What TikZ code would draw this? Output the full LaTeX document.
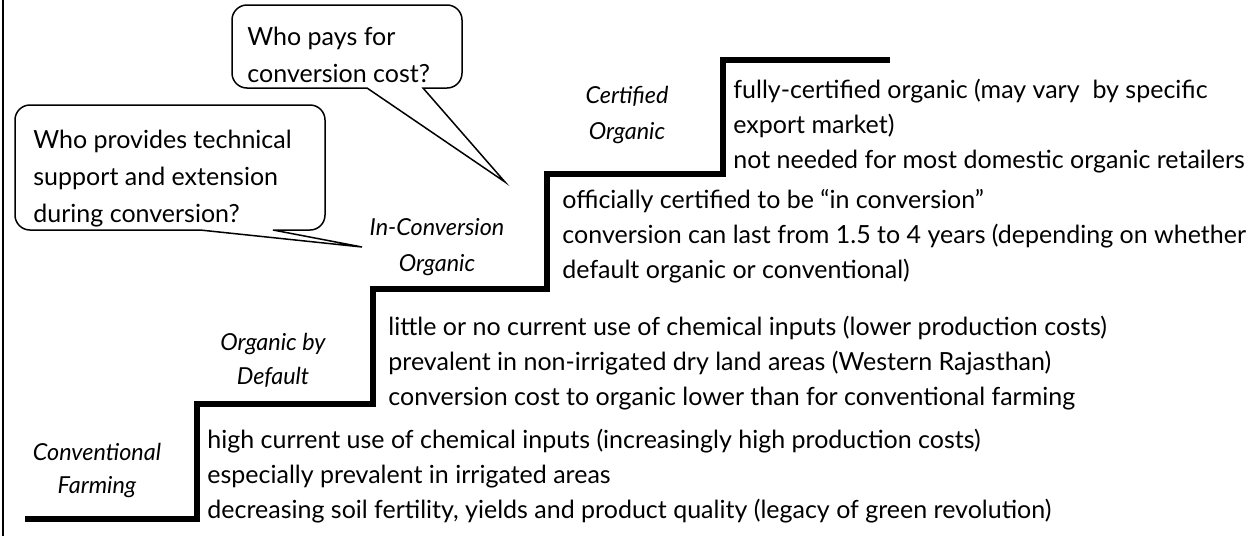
\documentclass[tikz,border=0pt]{standalone}
\usepackage{fontspec}
\setmainfont{Lato}
\usetikzlibrary{positioning}

\newcommand{\txtsize}{\fontsize{12.5}{15}\selectfont}
\newcommand{\stagesize}{\fontsize{11.7}{14}\selectfont}

\begin{document}
\begin{tikzpicture}[
    x=0.5pt, y=-0.5pt,
    stairs/.style={line width=2.6pt, line join=miter},
    stage/.style={font=\stagesize\itshape, anchor=base, inner sep=0pt},
    note/.style={font=\txtsize, anchor=base west, inner sep=0pt},
    bubble/.style={draw=black, line width=0.75pt, fill=white}
]
    \useasboundingbox (0,0) rectangle (1257,536);
    \draw[line width=0.75pt] (3,0) -- (3,536);

    % staircase
    \draw[stairs] (25,519) -- (197,519) -- (197,404) -- (373,404) -- (373,289)
        -- (547,289) -- (547,174) -- (723,174) -- (723,60) -- (890,60);

    % stage names
    \node[stage] (conv-a) at (97,460) {Conventional};
    \node[stage] (conv-b) at (97,493) {Farming};
    \node[stage] (dflt-a) at (273,350) {Organic by};
    \node[stage] (dflt-b) at (273,384) {Default};
    \node[stage] (inc-a) at (437,235) {In-Conversion};
    \node[stage] (inc-b) at (437,271) {Organic};
    \node[stage] (cert-a) at (627,103) {Certified};
    \node[stage] (cert-b) at (627,139) {Organic};

    % notes on each step
    \foreach \t [count=\i from 0] in {fully-certified organic (may vary\ \ by specific,
        export market), not needed for most domestic organic retailers}
        \node[note] (certnote-\i) at (733,98+35*\i) {\t};
    \foreach \t [count=\i from 0] in {officially certified to be “in conversion”,
        conversion can last from 1.5 to 4 years (depending on whether,
        default organic or conventional)}
        \node[note] (incnote-\i) at (562,208+35*\i) {\t};
    \foreach \t [count=\i from 0] in {little or no current use of chemical inputs (lower production costs),
        prevalent in non-irrigated dry land areas (Western Rajasthan),
        conversion cost to organic lower than for conventional farming}
        \node[note] (dfltnote-\i) at (388,335+35*\i) {\t};
    \foreach \t [count=\i from 0] in {high current use of chemical inputs (increasingly high production costs),
        especially prevalent in irrigated areas,
        {decreasing soil fertility, yields and product quality (legacy of green revolution)}}
        \node[note] (convnote-\i) at (207,448+35*\i) {\t};

    % speech bubbles
    \draw[bubble] (367,88) [rounded corners=7.5pt] -- (232,88) -- (232,5) -- (462,5)
        -- (462,88) [sharp corners] -- (423,88) -- (505,182) -- cycle;
    \node[note] (pays-a) at (247,45) {Who pays for};
    \node[note] (pays-b) at (247,82) {conversion cost?};

    \draw[bubble] (200,230) [rounded corners=7.5pt] -- (15,230) -- (15,105) -- (325,105)
        -- (325,230) [sharp corners] -- (273,230) -- (362,247) -- cycle;
    \node[note] (help-a) at (33,148) {Who provides technical};
    \node[note] (help-b) at (33,185) {support and extension};
    \node[note] (help-c) at (33,222) {during conversion?};
\end{tikzpicture}
\end{document}
